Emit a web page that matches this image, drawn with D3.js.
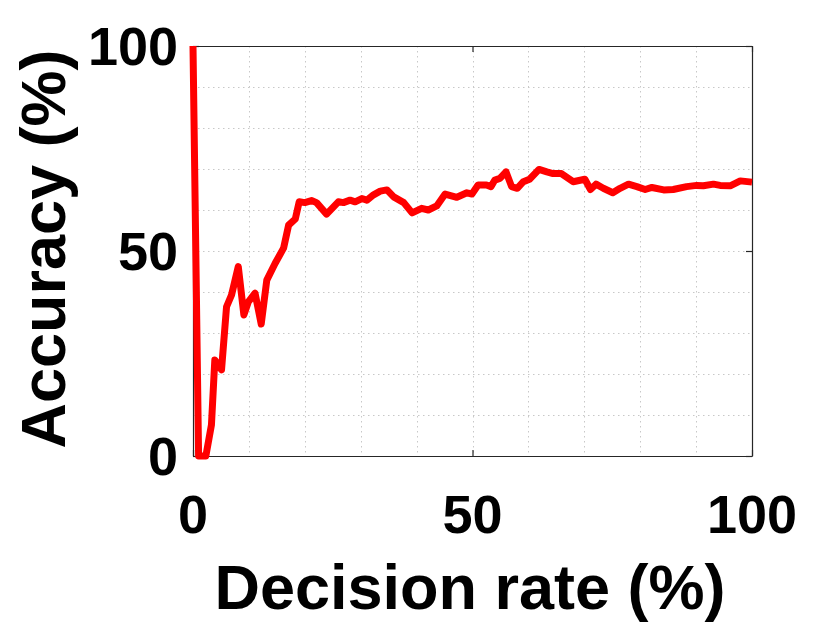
<!DOCTYPE html>
<html>
<head>
<meta charset="utf-8">
<script src="https://cdn.jsdelivr.net/npm/d3@7"></script>
<style>
  html, body { margin: 0; padding: 0; background: #fff; }
  svg { display: block; }
  text { font-family: "Liberation Sans", Arial, Helvetica, sans-serif; font-weight: bold; fill: #000; }
</style>
</head>
<body>
<svg id="chart" width="830" height="624"></svg>
<script>
const decisionRate = [0, 1.0, 2.3, 3.3, 3.9, 5.1, 6.0, 6.9, 8.1, 9.1, 9.9, 11.1, 12.2, 13.2, 14.7, 16.2, 17.1, 18.3, 19.0, 20.0,
  21.2, 22.1, 23.9, 26.0, 26.9, 28.1, 29.0, 30.2, 31.1, 32.3, 33.5, 34.7, 35.9, 37.7, 39.2, 40.9, 42.1, 43.6, 45.1, 47.2,
  49.0, 49.9, 51.0, 52.5, 53.3, 54.0, 54.9, 56.0, 57.0, 58.0, 59.1, 60.2, 61.9, 63.3, 64.4, 65.9, 68.0, 70.1, 71.1, 72.1,
  73.4, 75.1, 76.4, 77.9, 79.4, 80.9, 82.1, 84.2, 85.9, 88.3, 90.1, 91.3, 93.1, 94.3, 96.1, 97.9, 100];
const accuracy = [100, 0, 0, 7.6, 23.4, 21, 36.4, 39.3, 46.2, 34.4, 37.6, 39.7, 32.2, 42.9, 47, 50.7, 56.3, 57.8, 62, 61.8,
  62.3, 61.8, 59, 62, 61.8, 62.4, 62, 62.8, 62.4, 63.7, 64.6, 64.9, 63.2, 61.8, 59.3, 60.4, 60, 61, 63.9, 63.1,
  64.2, 63.9, 66.1, 66.1, 65.7, 67.3, 67.7, 69.3, 65.7, 65.3, 66.9, 67.5, 69.9, 69.3, 68.9, 68.9, 66.9, 67.5, 65, 66.3,
  65.3, 64.2, 65.3, 66.3, 65.7, 65, 65.5, 64.9, 65, 65.7, 66, 65.9, 66.3, 66, 65.9, 67.1, 66.8];
const xTickLabels = [0, 50, 100];
const yTickLabels = [0, 50, 100];
const gridValues = [10, 20, 30, 40, 50, 60, 70, 80, 90];
const xTitle = "Decision rate (%)";
const yTitle = "Accuracy (%)";

const svg = d3.select("#chart");
const L = 193, R = 752, T = 46, B = 456;
const x = d3.scaleLinear().domain([0, 100]).range([L, R]);
const y = d3.scaleLinear().domain([0, 100]).range([B, T]);

// grid
const grid = svg.append("g").attr("stroke", "#c8c8c8").attr("stroke-width", 1).attr("stroke-dasharray", "1.5,3.5");
grid.selectAll("line.gx").data(gridValues).join("line").attr("class", "gx")
  .attr("x1", d => Math.round(x(d)) + 0.5).attr("x2", d => Math.round(x(d)) + 0.5)
  .attr("y1", T).attr("y2", B);
grid.selectAll("line.gy").data(gridValues).join("line").attr("class", "gy")
  .attr("y1", d => Math.round(y(d)) + 0.5).attr("y2", d => Math.round(y(d)) + 0.5)
  .attr("x1", L).attr("x2", R);

// axes (box with inward ticks)
const tickLen = 6;
const axStroke = "#262626";
const axBottom = d3.axisBottom(x).tickValues(xTickLabels).tickSize(-tickLen).tickSizeOuter(0).tickFormat("");
const axTop = d3.axisTop(x).tickValues(xTickLabels).tickSize(-tickLen).tickSizeOuter(0).tickFormat("");
const axLeft = d3.axisLeft(y).tickValues(yTickLabels).tickSize(-tickLen).tickSizeOuter(0).tickFormat("");
const axRight = d3.axisRight(y).tickValues(yTickLabels).tickSize(-tickLen).tickSizeOuter(0).tickFormat("");
[[axBottom, `translate(0,${B})`], [axTop, `translate(0,${T})`], [axLeft, `translate(${L},0)`], [axRight, `translate(${R},0)`]]
  .forEach(([ax, tr]) => {
    const g = svg.append("g").attr("transform", tr).call(ax);
    g.selectAll("path,line").attr("stroke", axStroke).attr("stroke-width", 1.2);
  });

// tick labels
svg.append("g").selectAll("text").data(xTickLabels).join("text")
  .attr("x", d => x(d)).attr("y", 533)
  .attr("text-anchor", "middle").attr("font-size", 54)
  .text(d => d);
svg.append("g").selectAll("text").data(yTickLabels).join("text")
  .attr("x", 178).attr("y", d => y(d) + 19)
  .attr("text-anchor", "end").attr("font-size", 54)
  .text(d => d);

// line
const line = d3.line().x(d => x(d[0])).y(d => y(d[1]));
svg.append("path")
  .datum(decisionRate.map((d, i) => [d, accuracy[i]]))
  .attr("d", line)
  .attr("fill", "none").attr("stroke", "#ff0000").attr("stroke-width", 7)
  .attr("stroke-linejoin", "round").attr("stroke-linecap", "butt");

// titles
svg.append("text").attr("x", 470).attr("y", 609).attr("text-anchor", "middle")
  .attr("font-size", 63).text(xTitle);
svg.append("text").attr("transform", "translate(65,249) rotate(-90)").attr("text-anchor", "middle")
  .attr("font-size", 63).text(yTitle);
</script>
</body>
</html>
